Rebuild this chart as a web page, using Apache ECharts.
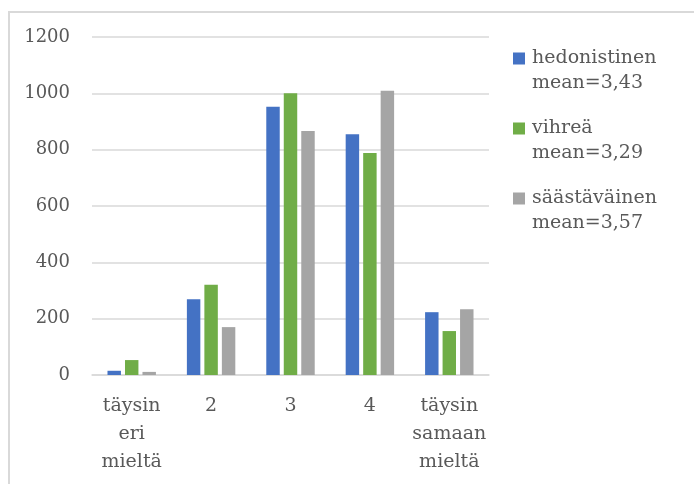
<!DOCTYPE html>
<html>
<head>
<meta charset="utf-8">
<script src="https://cdn.jsdelivr.net/npm/echarts@6/dist/echarts.min.js"></script>
<style>
  html, body { margin: 0; padding: 0; background: #fff; }
  #frame { position: absolute; left: 8px; top: 11px; width: 720px; height: 520px;
           border: 2px solid #d9d9d9; box-sizing: border-box; }
  #chart { position: absolute; left: 0; top: 0; width: 694px; height: 484px; }
</style>
</head>
<body>
<div id="frame"></div>
<div id="chart"></div>
<script>
var categories = ['täysin\neri\nmieltä', '2', '3', '4', 'täysin\nsamaan\nmieltä'];
var seriesNames = ['hedonistinen\nmean=3,43', 'vihreä\nmean=3,29', 'säästäväinen\nmean=3,57'];
var hedonistinen = [15, 269, 952, 855, 223];
var vihrea = [53, 320, 1000, 788, 156];
var saastavainen = [11, 170, 866, 1009, 233];
var colors = ['#4472c4', '#70ad47', '#a5a5a5'];

(function() {
  var ink = '#595959';
  var rule = '#d9d9d9';
  var font = 'DejaVu Serif';
  var values = [hedonistinen, vihrea, saastavainen];
  // square at the top-left, invisible speck at the far corner so the icon lines up with the first text line
  var legendIcon = 'path://M0,0h12v12h-12Z M13.99,36.99h0.01v0.01h-0.01Z';

  var chart = echarts.init(document.getElementById('chart'), null, { renderer: 'canvas' });
  chart.setOption({
    animation: false,
    color: colors,
    textStyle: { fontFamily: font },
    grid: { left: 92, right: 205, top: 37, bottom: 109 },
    legend: {
      orient: 'vertical',
      left: 508,
      top: 41,
      itemWidth: 14,
      itemHeight: 37,
      itemGap: 20,
      icon: legendIcon,
      textStyle: { color: ink, fontSize: 19, fontFamily: font, lineHeight: 25 }
    },
    xAxis: {
      type: 'category',
      data: categories,
      axisLine: { lineStyle: { color: rule, width: 1.5 } },
      axisTick: { show: false },
      axisLabel: { color: ink, fontSize: 19, fontFamily: font, lineHeight: 28, margin: 17, interval: 0 }
    },
    yAxis: {
      type: 'value',
      min: 0,
      max: 1200,
      interval: 200,
      axisLine: { show: false },
      axisTick: { show: false },
      axisLabel: { color: ink, fontSize: 18, fontFamily: font, margin: 22, formatter: function(v) { return String(v); } },
      splitLine: { lineStyle: { color: rule, width: 1.5 } }
    },
    series: seriesNames.map(function(name, i) {
      return {
        type: 'bar',
        name: name,
        data: values[i],
        barGap: '30%',
        barCategoryGap: '39%'
      };
    })
  });
})();
</script>
</body>
</html>
